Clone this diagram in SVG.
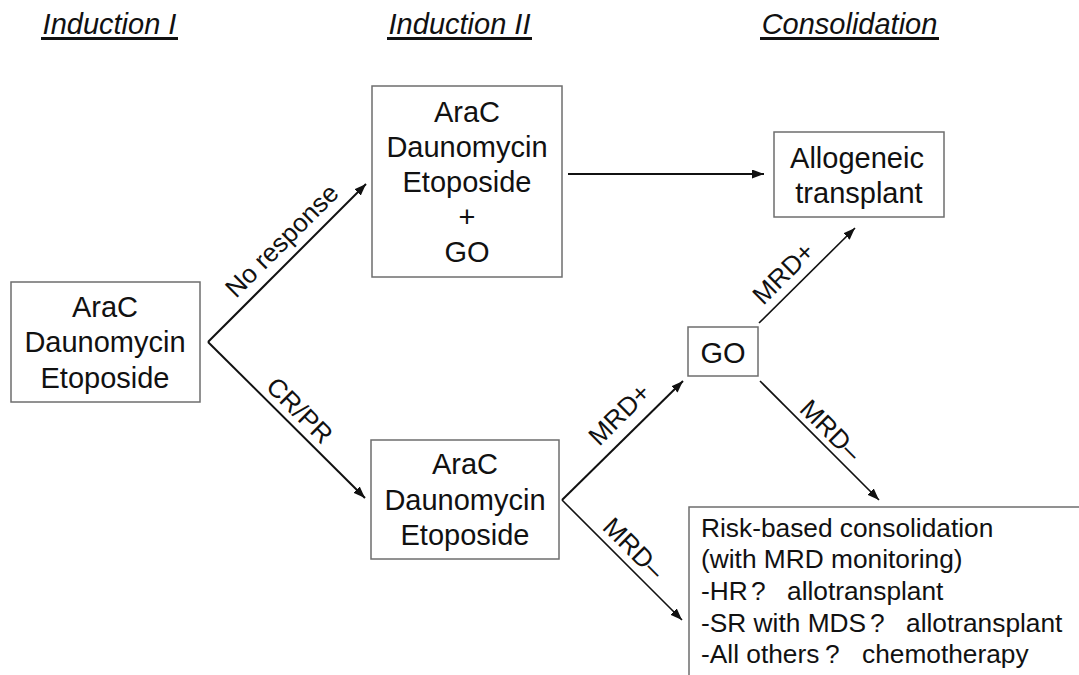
<svg xmlns="http://www.w3.org/2000/svg" width="1079" height="675" viewBox="0 0 1079 675">
<style>
  .hdr { font-family: "Liberation Sans", Arial, sans-serif; font-style: italic; font-size: 29px; fill: #111; text-anchor: middle; }
  .uline { stroke: #111; stroke-width: 3; }
  .box { fill: #fff; stroke: #6e6e6e; stroke-width: 1.5; }
  .nt { font-family: "Liberation Sans", Arial, sans-serif; font-size: 29px; fill: #111; text-anchor: middle; }
  .rt { font-family: "Liberation Sans", Arial, sans-serif; font-size: 26.3px; fill: #111; }
  .lbl { font-family: "Liberation Sans", Arial, sans-serif; font-size: 26px; fill: #111; text-anchor: middle; }
  .edge { fill: none; stroke: #111; stroke-width: 2; marker-end: url(#ah); }
  .edge2 { fill: none; stroke: #111; stroke-width: 1.6; marker-end: url(#ah); }
</style>
<defs>
  <marker id="ah" markerUnits="userSpaceOnUse" markerWidth="13" markerHeight="10" refX="12" refY="4.5" orient="auto">
    <path d="M0,0 L12,4.5 L0,9 z" fill="#111"/>
  </marker>
</defs>
<rect width="1079" height="675" fill="#fff"/>

<g id="headers">
  <text class="hdr" x="109.5" y="34">Induction I</text>
  <line class="uline" x1="41" y1="38.5" x2="178" y2="38.5"/>
  <text class="hdr" x="459.5" y="34">Induction II</text>
  <line class="uline" x1="387" y1="38.5" x2="532" y2="38.5"/>
  <text class="hdr" x="849.5" y="34">Consolidation</text>
  <line class="uline" x1="760" y1="38.5" x2="939" y2="38.5"/>
</g>

<g id="connectors">
  <path class="edge" d="M208,342 L366,184"/>
  <path class="edge" d="M208,342 L365,498"/>
  <path class="edge" d="M568,174 L764,174"/>
  <path class="edge" d="M562,500 L683,381"/>
  <path class="edge2" d="M562,500 L682,620"/>
  <path class="edge2" d="M759,323 L855,228"/>
  <path class="edge2" d="M760,381 L879,500"/>
  <text class="lbl" transform="translate(288,247) rotate(-45)">No response</text>
  <text class="lbl" transform="translate(293.4,416.6) rotate(45)">CR/PR</text>
  <text class="lbl" transform="translate(625.6,420.6) rotate(-45)">MRD+</text>
  <text class="lbl" transform="translate(627.4,554.6) rotate(45)">MRD–</text>
  <text class="lbl" transform="translate(789.6,279.6) rotate(-45)">MRD+</text>
  <text class="lbl" transform="translate(824.4,436.6) rotate(45)">MRD–</text>
</g>

<g id="induction1">
  <rect class="box" x="11" y="282" width="189" height="120"/>
  <text class="nt" x="105" y="317">AraC</text>
  <text class="nt" x="105" y="352">Daunomycin</text>
  <text class="nt" x="105" y="388">Etoposide</text>
</g>

<g id="induction2-go">
  <rect class="box" x="372" y="86" width="190" height="191"/>
  <text class="nt" x="467" y="122">AraC</text>
  <text class="nt" x="467" y="157">Daunomycin</text>
  <text class="nt" x="467" y="192">Etoposide</text>
  <text class="nt" x="467" y="227">+</text>
  <text class="nt" x="467" y="262">GO</text>
</g>

<g id="induction2">
  <rect class="box" x="371" y="440" width="188" height="119"/>
  <text class="nt" x="465" y="474">AraC</text>
  <text class="nt" x="465" y="510">Daunomycin</text>
  <text class="nt" x="465" y="545">Etoposide</text>
</g>

<g id="allo">
  <rect class="box" x="774" y="132" width="170" height="85"/>
  <text class="nt" x="857" y="168">Allogeneic</text>
  <text class="nt" x="859" y="203">transplant</text>
</g>

<g id="go">
  <rect class="box" x="688" y="327" width="70" height="49"/>
  <text class="nt" x="723" y="363">GO</text>
</g>

<g id="risk">
  <rect class="box" x="689" y="507" width="420" height="200"/>
  <text class="rt" x="701" y="537">Risk-based consolidation</text>
  <text class="rt" x="701" y="568">(with MRD monitoring)</text>
  <text class="rt" y="600"><tspan x="701">-HR</tspan><tspan x="751">?</tspan><tspan x="787">allotransplant</tspan></text>
  <text class="rt" y="632"><tspan x="701">-SR with MDS</tspan><tspan x="870">?</tspan><tspan x="906">allotransplant</tspan></text>
  <text class="rt" y="663"><tspan x="701">-All others</tspan><tspan x="825">?</tspan><tspan x="862">chemotherapy</tspan></text>
</g>
</svg>
